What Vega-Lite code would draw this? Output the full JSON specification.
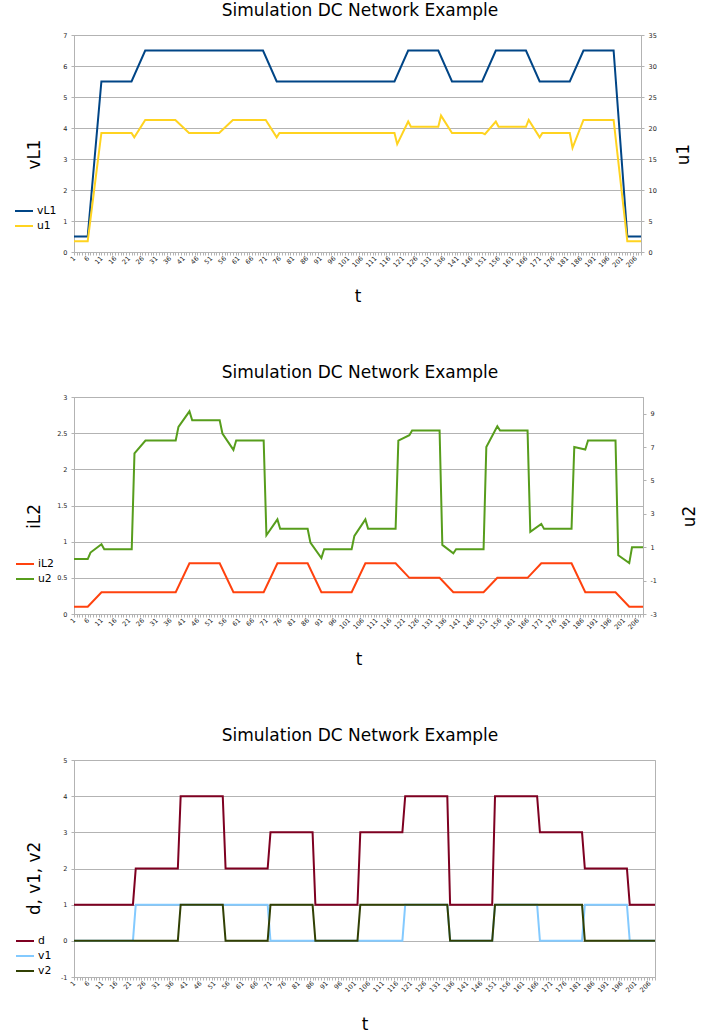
{
  "$schema": "https://vega.github.io/schema/vega-lite/v6.json",
  "background": "white",
  "padding": {"left": 13, "top": 1, "right": 5, "bottom": 2},
  "spacing": 57,
  "columns": 1,
  "resolve": {"scale": {"color": "independent"}, "legend": {"color": "independent"}},
  "config": {
    "font": "DejaVu Sans",
    "view": {"stroke": "#b3b3b3", "strokeWidth": 1},
    "title": {"font": "DejaVu Sans", "fontSize": 17, "fontWeight": "normal", "color": "#000000", "offset": 12},
    "axis": {"labelFont": "DejaVu Sans", "labelFontSize": 6.5, "labelColor": "#222222", "titleFont": "DejaVu Sans", "titleFontSize": 16.8, "titleFontWeight": "normal", "titleColor": "#000000", "domainColor": "#b3b3b3", "tickColor": "#b3b3b3", "gridColor": "#b3b3b3", "tickSize": 3, "labelPadding": 4},
    "legend": {"labelFont": "DejaVu Sans", "labelFontSize": 10.8, "labelColor": "#000000", "symbolType": "stroke", "symbolStrokeWidth": 2, "symbolSize": 324, "rowPadding": -2, "labelOffset": 3, "padding": 0, "orient": "none"},
    "line": {"strokeWidth": 2}
  },
  "datasets": {
    "p1": [
      {"t":1,"s":"vL1","v":0.5},{"t":6,"s":"vL1","v":0.5},{"t":11,"s":"vL1","v":5.5},{"t":22,"s":"vL1","v":5.5},{"t":27,"s":"vL1","v":6.5},{"t":70,"s":"vL1","v":6.5},{"t":75,"s":"vL1","v":5.5},{"t":118,"s":"vL1","v":5.5},{"t":123,"s":"vL1","v":6.5},{"t":134,"s":"vL1","v":6.5},{"t":139,"s":"vL1","v":5.5},{"t":150,"s":"vL1","v":5.5},{"t":155,"s":"vL1","v":6.5},{"t":166,"s":"vL1","v":6.5},{"t":171,"s":"vL1","v":5.5},{"t":182,"s":"vL1","v":5.5},{"t":187,"s":"vL1","v":6.5},{"t":198,"s":"vL1","v":6.5},{"t":203,"s":"vL1","v":0.5},{"t":208,"s":"vL1","v":0.5},
      {"t":1,"s":"u1","v":1.75},{"t":6,"s":"u1","v":1.75},{"t":11,"s":"u1","v":19.2},{"t":22,"s":"u1","v":19.2},{"t":23,"s":"u1","v":18.5},{"t":27,"s":"u1","v":21.3},{"t":38,"s":"u1","v":21.3},{"t":43,"s":"u1","v":19.2},{"t":54,"s":"u1","v":19.2},{"t":59,"s":"u1","v":21.3},{"t":71,"s":"u1","v":21.3},{"t":75,"s":"u1","v":18.5},{"t":76,"s":"u1","v":19.2},{"t":118,"s":"u1","v":19.2},{"t":119,"s":"u1","v":17.4},{"t":123,"s":"u1","v":21.05},{"t":124,"s":"u1","v":20.2},{"t":134,"s":"u1","v":20.2},{"t":135,"s":"u1","v":22.0},{"t":139,"s":"u1","v":19.2},{"t":150,"s":"u1","v":19.2},{"t":151,"s":"u1","v":19.0},{"t":155,"s":"u1","v":21.05},{"t":156,"s":"u1","v":20.2},{"t":166,"s":"u1","v":20.2},{"t":167,"s":"u1","v":21.3},{"t":171,"s":"u1","v":18.5},{"t":172,"s":"u1","v":19.2},{"t":182,"s":"u1","v":19.2},{"t":183,"s":"u1","v":16.8},{"t":187,"s":"u1","v":21.3},{"t":198,"s":"u1","v":21.3},{"t":203,"s":"u1","v":1.75},{"t":208,"s":"u1","v":1.75}
    ],
    "p2": [
      {"t":1,"s":"iL2","v":0.1},{"t":6,"s":"iL2","v":0.1},{"t":11,"s":"iL2","v":0.3},{"t":38,"s":"iL2","v":0.3},{"t":43,"s":"iL2","v":0.7},{"t":54,"s":"iL2","v":0.7},{"t":59,"s":"iL2","v":0.3},{"t":70,"s":"iL2","v":0.3},{"t":75,"s":"iL2","v":0.7},{"t":86,"s":"iL2","v":0.7},{"t":91,"s":"iL2","v":0.3},{"t":102,"s":"iL2","v":0.3},{"t":107,"s":"iL2","v":0.7},{"t":118,"s":"iL2","v":0.7},{"t":123,"s":"iL2","v":0.5},{"t":134,"s":"iL2","v":0.5},{"t":139,"s":"iL2","v":0.3},{"t":150,"s":"iL2","v":0.3},{"t":155,"s":"iL2","v":0.5},{"t":166,"s":"iL2","v":0.5},{"t":171,"s":"iL2","v":0.7},{"t":182,"s":"iL2","v":0.7},{"t":187,"s":"iL2","v":0.3},{"t":198,"s":"iL2","v":0.3},{"t":203,"s":"iL2","v":0.1},{"t":208,"s":"iL2","v":0.1},
      {"t":1,"s":"u2","v":0.29},{"t":6,"s":"u2","v":0.29},{"t":7,"s":"u2","v":0.68},{"t":11,"s":"u2","v":1.18},{"t":12,"s":"u2","v":0.88},{"t":22,"s":"u2","v":0.88},{"t":23,"s":"u2","v":6.62},{"t":27,"s":"u2","v":7.39},{"t":38,"s":"u2","v":7.39},{"t":39,"s":"u2","v":8.21},{"t":43,"s":"u2","v":9.14},{"t":44,"s":"u2","v":8.61},{"t":54,"s":"u2","v":8.61},{"t":55,"s":"u2","v":7.81},{"t":59,"s":"u2","v":6.83},{"t":60,"s":"u2","v":7.39},{"t":70,"s":"u2","v":7.39},{"t":71,"s":"u2","v":1.72},{"t":75,"s":"u2","v":2.67},{"t":76,"s":"u2","v":2.1},{"t":86,"s":"u2","v":2.1},{"t":87,"s":"u2","v":1.28},{"t":91,"s":"u2","v":0.35},{"t":92,"s":"u2","v":0.88},{"t":102,"s":"u2","v":0.88},{"t":103,"s":"u2","v":1.68},{"t":107,"s":"u2","v":2.67},{"t":108,"s":"u2","v":2.1},{"t":118,"s":"u2","v":2.1},{"t":119,"s":"u2","v":7.39},{"t":123,"s":"u2","v":7.71},{"t":124,"s":"u2","v":7.99},{"t":134,"s":"u2","v":7.99},{"t":135,"s":"u2","v":1.14},{"t":139,"s":"u2","v":0.64},{"t":140,"s":"u2","v":0.88},{"t":150,"s":"u2","v":0.88},{"t":151,"s":"u2","v":7.01},{"t":155,"s":"u2","v":8.25},{"t":156,"s":"u2","v":7.99},{"t":166,"s":"u2","v":7.99},{"t":167,"s":"u2","v":1.92},{"t":171,"s":"u2","v":2.4},{"t":172,"s":"u2","v":2.1},{"t":182,"s":"u2","v":2.1},{"t":183,"s":"u2","v":7.01},{"t":187,"s":"u2","v":6.85},{"t":188,"s":"u2","v":7.39},{"t":198,"s":"u2","v":7.39},{"t":199,"s":"u2","v":0.52},{"t":203,"s":"u2","v":0.05},{"t":204,"s":"u2","v":1.0},{"t":208,"s":"u2","v":1.0}
    ],
    "p3": [
      {"t":1,"s":"d","v":1},{"t":22,"s":"d","v":1},{"t":23,"s":"d","v":2},{"t":38,"s":"d","v":2},{"t":39,"s":"d","v":4},{"t":54,"s":"d","v":4},{"t":55,"s":"d","v":2},{"t":70,"s":"d","v":2},{"t":71,"s":"d","v":3},{"t":86,"s":"d","v":3},{"t":87,"s":"d","v":1},{"t":102,"s":"d","v":1},{"t":103,"s":"d","v":3},{"t":118,"s":"d","v":3},{"t":119,"s":"d","v":4},{"t":134,"s":"d","v":4},{"t":135,"s":"d","v":1},{"t":150,"s":"d","v":1},{"t":151,"s":"d","v":4},{"t":166,"s":"d","v":4},{"t":167,"s":"d","v":3},{"t":182,"s":"d","v":3},{"t":183,"s":"d","v":2},{"t":198,"s":"d","v":2},{"t":199,"s":"d","v":1},{"t":208,"s":"d","v":1},
      {"t":1,"s":"v1","v":0},{"t":22,"s":"v1","v":0},{"t":23,"s":"v1","v":1},{"t":70,"s":"v1","v":1},{"t":71,"s":"v1","v":0},{"t":118,"s":"v1","v":0},{"t":119,"s":"v1","v":1},{"t":134,"s":"v1","v":1},{"t":135,"s":"v1","v":0},{"t":150,"s":"v1","v":0},{"t":151,"s":"v1","v":1},{"t":166,"s":"v1","v":1},{"t":167,"s":"v1","v":0},{"t":182,"s":"v1","v":0},{"t":183,"s":"v1","v":1},{"t":198,"s":"v1","v":1},{"t":199,"s":"v1","v":0},{"t":208,"s":"v1","v":0},
      {"t":1,"s":"v2","v":0},{"t":38,"s":"v2","v":0},{"t":39,"s":"v2","v":1},{"t":54,"s":"v2","v":1},{"t":55,"s":"v2","v":0},{"t":70,"s":"v2","v":0},{"t":71,"s":"v2","v":1},{"t":86,"s":"v2","v":1},{"t":87,"s":"v2","v":0},{"t":102,"s":"v2","v":0},{"t":103,"s":"v2","v":1},{"t":134,"s":"v2","v":1},{"t":135,"s":"v2","v":0},{"t":150,"s":"v2","v":0},{"t":151,"s":"v2","v":1},{"t":182,"s":"v2","v":1},{"t":183,"s":"v2","v":0},{"t":208,"s":"v2","v":0}
    ]
  },
  "concat": [
    {
      "width": 567, "height": 217,
      "title": {"text": "Simulation DC Network Example", "dx": 2.5},
      "data": {"name": "p1"},
      "encoding": {
        "x": {"field": "t", "type": "quantitative", "scale": {"domain": [1, 208], "nice": false, "zero": false},
          "axis": {"title": "t", "values": [1,2,3,4,5,6,7,8,9,10,11,12,13,14,15,16,17,18,19,20,21,22,23,24,25,26,27,28,29,30,31,32,33,34,35,36,37,38,39,40,41,42,43,44,45,46,47,48,49,50,51,52,53,54,55,56,57,58,59,60,61,62,63,64,65,66,67,68,69,70,71,72,73,74,75,76,77,78,79,80,81,82,83,84,85,86,87,88,89,90,91,92,93,94,95,96,97,98,99,100,101,102,103,104,105,106,107,108,109,110,111,112,113,114,115,116,117,118,119,120,121,122,123,124,125,126,127,128,129,130,131,132,133,134,135,136,137,138,139,140,141,142,143,144,145,146,147,148,149,150,151,152,153,154,155,156,157,158,159,160,161,162,163,164,165,166,167,168,169,170,171,172,173,174,175,176,177,178,179,180,181,182,183,184,185,186,187,188,189,190,191,192,193,194,195,196,197,198,199,200,201,202,203,204,205,206,207,208],
            "labelExpr": "(datum.value - 1) % 5 === 0 ? '' + datum.value : ''", "labelAngle": -45, "labelAlign": "right", "labelBaseline": "middle", "labelOverlap": false, "labelFlush": false, "labelPadding": 2, "grid": false, "titleY": 49, "titleBaseline": "alphabetic"}}
      },
      "layer": [
        {
          "transform": [{"filter": "datum.s === 'vL1'"}],
          "mark": {"type": "line"},
          "encoding": {
            "y": {"field": "v", "type": "quantitative", "scale": {"domain": [0, 7], "nice": false, "zero": false},
              "axis": {"title": "vL1", "orient": "left", "values": [0,1,2,3,4,5,6,7], "grid": true, "titleX": -35, "titleY": 119, "titleAngle": -90, "titleBaseline": "alphabetic", "titleAlign": "center"}},
            "color": {"field": "s", "type": "nominal", "scale": {"domain": ["vL1", "u1"], "range": ["#004586", "#ffd320"]},
              "legend": {"title": null, "orient": "none", "legendX": -60, "legendY": 166}}
          }
        },
        {
          "transform": [{"filter": "datum.s === 'u1'"}],
          "mark": {"type": "line"},
          "encoding": {
            "y": {"field": "v", "type": "quantitative", "scale": {"domain": [0, 35], "nice": false, "zero": false},
              "axis": {"title": "u1", "orient": "right", "values": [0,5,10,15,20,25,30,35], "grid": false, "titleX": 47, "titleY": 119, "titleAngle": -90, "titleBaseline": "alphabetic", "titleAlign": "center"}},
            "color": {"field": "s", "type": "nominal", "scale": {"domain": ["vL1", "u1"], "range": ["#004586", "#ffd320"]},
              "legend": {"title": null, "orient": "none", "legendX": -60, "legendY": 166}}
          }
        }
      ],
      "resolve": {"scale": {"y": "independent"}}
    },
    {
      "width": 569, "height": 217,
      "title": {"text": "Simulation DC Network Example", "dx": 1.5},
      "data": {"name": "p2"},
      "encoding": {
        "x": {"field": "t", "type": "quantitative", "scale": {"domain": [1, 208], "nice": false, "zero": false},
          "axis": {"title": "t", "values": [1,2,3,4,5,6,7,8,9,10,11,12,13,14,15,16,17,18,19,20,21,22,23,24,25,26,27,28,29,30,31,32,33,34,35,36,37,38,39,40,41,42,43,44,45,46,47,48,49,50,51,52,53,54,55,56,57,58,59,60,61,62,63,64,65,66,67,68,69,70,71,72,73,74,75,76,77,78,79,80,81,82,83,84,85,86,87,88,89,90,91,92,93,94,95,96,97,98,99,100,101,102,103,104,105,106,107,108,109,110,111,112,113,114,115,116,117,118,119,120,121,122,123,124,125,126,127,128,129,130,131,132,133,134,135,136,137,138,139,140,141,142,143,144,145,146,147,148,149,150,151,152,153,154,155,156,157,158,159,160,161,162,163,164,165,166,167,168,169,170,171,172,173,174,175,176,177,178,179,180,181,182,183,184,185,186,187,188,189,190,191,192,193,194,195,196,197,198,199,200,201,202,203,204,205,206,207,208],
            "labelExpr": "(datum.value - 1) % 5 === 0 ? '' + datum.value : ''", "labelAngle": -45, "labelAlign": "right", "labelBaseline": "middle", "labelOverlap": false, "labelFlush": false, "labelPadding": 2, "grid": false, "titleY": 50, "titleBaseline": "alphabetic"}}
      },
      "layer": [
        {
          "transform": [{"filter": "datum.s === 'iL2'"}],
          "mark": {"type": "line"},
          "encoding": {
            "y": {"field": "v", "type": "quantitative", "scale": {"domain": [0, 3], "nice": false, "zero": false},
              "axis": {"title": "iL2", "orient": "left", "values": [0,0.5,1,1.5,2,2.5,3], "format": "~g", "grid": true, "titleX": -35, "titleY": 119, "titleAngle": -90, "titleBaseline": "alphabetic", "titleAlign": "center"}},
            "color": {"field": "s", "type": "nominal", "scale": {"domain": ["iL2", "u2"], "range": ["#ff420e", "#579d1c"]},
              "legend": {"title": null, "orient": "none", "legendX": -59, "legendY": 157}}
          }
        },
        {
          "transform": [{"filter": "datum.s === 'u2'"}],
          "mark": {"type": "line"},
          "encoding": {
            "y": {"field": "v", "type": "quantitative", "scale": {"domain": [-3, 10], "nice": false, "zero": false},
              "axis": {"title": "u2", "orient": "right", "values": [-3,-1,1,3,5,7,9], "labelExpr": "datum.value < 0 ? '-' + abs(datum.value) : '' + datum.value", "grid": false, "titleX": 51, "titleY": 119, "titleAngle": -90, "titleBaseline": "alphabetic", "titleAlign": "center"}},
            "color": {"field": "s", "type": "nominal", "scale": {"domain": ["iL2", "u2"], "range": ["#ff420e", "#579d1c"]},
              "legend": {"title": null, "orient": "none", "legendX": -59, "legendY": 157}}
          }
        }
      ],
      "resolve": {"scale": {"y": "independent"}}
    },
    {
      "width": 581, "height": 217,
      "title": {"text": "Simulation DC Network Example", "dx": -4.5},
      "data": {"name": "p3"},
      "encoding": {
        "x": {"field": "t", "type": "quantitative", "scale": {"domain": [1, 208], "nice": false, "zero": false},
          "axis": {"title": "t", "values": [1,2,3,4,5,6,7,8,9,10,11,12,13,14,15,16,17,18,19,20,21,22,23,24,25,26,27,28,29,30,31,32,33,34,35,36,37,38,39,40,41,42,43,44,45,46,47,48,49,50,51,52,53,54,55,56,57,58,59,60,61,62,63,64,65,66,67,68,69,70,71,72,73,74,75,76,77,78,79,80,81,82,83,84,85,86,87,88,89,90,91,92,93,94,95,96,97,98,99,100,101,102,103,104,105,106,107,108,109,110,111,112,113,114,115,116,117,118,119,120,121,122,123,124,125,126,127,128,129,130,131,132,133,134,135,136,137,138,139,140,141,142,143,144,145,146,147,148,149,150,151,152,153,154,155,156,157,158,159,160,161,162,163,164,165,166,167,168,169,170,171,172,173,174,175,176,177,178,179,180,181,182,183,184,185,186,187,188,189,190,191,192,193,194,195,196,197,198,199,200,201,202,203,204,205,206,207,208],
            "labelExpr": "(datum.value - 1) % 5 === 0 ? '' + datum.value : ''", "labelAngle": -45, "labelAlign": "right", "labelBaseline": "middle", "labelOverlap": false, "labelFlush": false, "labelPadding": 2, "grid": false, "titleY": 52, "titleBaseline": "alphabetic"}},
        "y": {"field": "v", "type": "quantitative", "scale": {"domain": [-1, 5], "nice": false, "zero": false},
          "axis": {"title": "d, v1, v2", "values": [-1,0,1,2,3,4,5], "labelExpr": "datum.value < 0 ? '-' + abs(datum.value) : '' + datum.value", "grid": true, "titleX": -35, "titleY": 118, "titleAngle": -90, "titleBaseline": "alphabetic", "titleAlign": "center"}},
        "color": {"field": "s", "type": "nominal", "scale": {"domain": ["d", "v1", "v2"], "range": ["#7e0021", "#83caff", "#314004"]},
          "legend": {"title": null, "orient": "none", "legendX": -59, "legendY": 171}}
      },
      "layer": [
        {"transform": [{"filter": "datum.s === 'd'"}], "mark": {"type": "line"}},
        {"transform": [{"filter": "datum.s === 'v1'"}], "mark": {"type": "line"}},
        {"transform": [{"filter": "datum.s === 'v2'"}], "mark": {"type": "line"}}
      ]
    }
  ]
}
